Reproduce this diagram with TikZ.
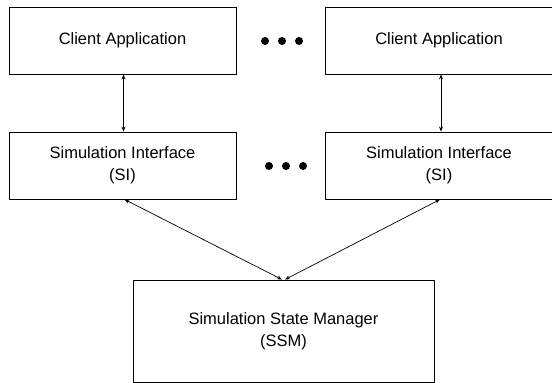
\documentclass[tikz,border=0pt]{standalone}
\usepackage{fontspec}
\setmainfont{Liberation Sans}
\usetikzlibrary{arrows.meta}
\begin{document}
\begin{tikzpicture}[x=1pt,y=1pt,
  box/.style={draw=black, line width=0.9pt, inner sep=0pt, align=center,
    font=\fontsize{16.5}{22}\selectfont},
  link/.style={line width=0.7pt, {Stealth[length=5pt,width=4pt]}-{Stealth[length=5pt,width=4pt]}},
  dot/.style={circle, fill=black, inner sep=0pt, minimum size=8pt}]
\useasboundingbox (0,0) rectangle (552,-383);
\node[box, minimum width=227pt, minimum height=67pt] (ca1) at (122.5,-40.5) {Client Application};
\node[box, minimum width=228pt, minimum height=67pt] (ca2) at (439,-40.5) {Client Application};
\node[box, minimum width=227pt, minimum height=67pt] (si1) at (122.5,-165.5) {Simulation Interface\\(SI)};
\node[box, minimum width=228pt, minimum height=67pt] (si2) at (439,-165.5) {Simulation Interface\\(SI)};
\node[box, minimum width=301pt, minimum height=102pt] (ssm) at (283.5,-331) {Simulation State Manager\\(SSM)};
\node[dot] (d1) at (265,-41) {};
\node[dot] (d2) at (282,-41) {};
\node[dot] (d3) at (299,-41) {};
\node[dot] (d4) at (269,-166) {};
\node[dot] (d5) at (286,-166) {};
\node[dot] (d6) at (303,-166) {};
\draw[link] ([xshift=1pt]ca1.south) -- ([xshift=1pt]si1.north);
\draw[link] ([xshift=2pt]ca2.south) -- ([xshift=2pt]si2.north);
\draw[link] ([xshift=2pt]si1.south) -- ([xshift=-1.5pt]ssm.north);
\draw[link] ([xshift=1pt]si2.south) -- ([xshift=1.5pt]ssm.north);
\end{tikzpicture}
\end{document}
